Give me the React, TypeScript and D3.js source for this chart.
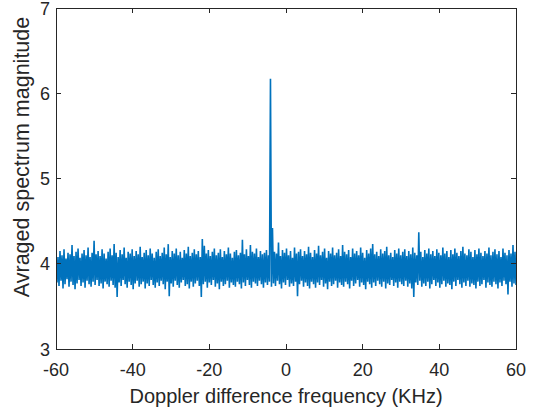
import React from 'react';
import * as d3 from 'd3';

const xTicks = [-60, -40, -20, 0, 20, 40, 60];
const yTicks = [3, 4, 5, 6, 7];

// Upper envelope of the averaged spectrum (one value per ~0.52 kHz)
const upperEnvelope = [
  4.12, 4.08, 4.15, 4.10, 4.17, 4.06, 4.13, 4.11, 4.22, 4.09,
  4.14, 4.18, 4.07, 4.12, 4.16, 4.10, 4.19, 4.08, 4.13, 4.27,
  4.11, 4.15, 4.09, 4.17, 4.12, 4.06, 4.14, 4.18, 4.10, 4.23,
  4.13, 4.08, 4.16, 4.11, 4.19, 4.07, 4.14, 4.12, 4.17, 4.09,
  4.15, 4.11, 4.20, 4.08, 4.13, 4.16, 4.10, 4.18, 4.12, 4.07,
  4.14, 4.17, 4.09, 4.13, 4.19, 4.11, 4.23, 4.08, 4.15, 4.12,
  4.18, 4.10, 4.14, 4.07, 4.16, 4.12, 4.20, 4.09, 4.13, 4.17,
  4.11, 4.15, 4.08, 4.29, 4.21, 4.12, 4.16, 4.09, 4.14, 4.18,
  4.10, 4.13, 4.17, 4.08, 4.15, 4.11, 4.19, 4.12, 4.07, 4.14,
  4.16, 4.10, 4.13, 4.28, 4.11, 4.17, 4.09, 4.22, 4.14, 4.12,
  4.18, 4.08, 4.15, 4.11, 4.13, 4.16, 4.10, 6.17, 4.42, 4.14,
  4.12, 4.25, 4.09, 4.16, 4.13, 4.18, 4.10, 4.15, 4.07, 4.19,
  4.12, 4.14, 4.17, 4.09, 4.15, 4.11, 4.20, 4.13, 4.08, 4.16,
  4.12, 4.21, 4.10, 4.14, 4.18, 4.07, 4.15, 4.12, 4.19, 4.10,
  4.13, 4.17, 4.09, 4.22, 4.14, 4.11, 4.16, 4.08, 4.18, 4.12,
  4.15, 4.10, 4.19, 4.13, 4.07, 4.16, 4.12, 4.18, 4.23, 4.11,
  4.14, 4.09, 4.17, 4.12, 4.15, 4.20, 4.10, 4.13, 4.08, 4.16,
  4.12, 4.18, 4.10, 4.14, 4.17, 4.09, 4.15, 4.11, 4.19, 4.13,
  4.10, 4.37, 4.14, 4.08, 4.16, 4.12, 4.18, 4.11, 4.15, 4.09,
  4.17, 4.13, 4.10, 4.19, 4.12, 4.15, 4.08, 4.16, 4.11, 4.18,
  4.13, 4.09, 4.15, 4.20, 4.12, 4.10, 4.17, 4.14, 4.08, 4.16,
  4.11, 4.18, 4.13, 4.09, 4.15, 4.12, 4.19, 4.10, 4.14, 4.17,
  4.11, 4.15, 4.08, 4.18, 4.13, 4.10, 4.16, 4.12, 4.22, 4.14,
];

// Lower envelope of the averaged spectrum
const lowerEnvelope = [
  3.78, 3.74, 3.80, 3.71, 3.76, 3.82, 3.73, 3.79, 3.75, 3.70,
  3.77, 3.81, 3.74, 3.78, 3.72, 3.80, 3.76, 3.73, 3.79, 3.75,
  3.81, 3.74, 3.77, 3.71, 3.79, 3.76, 3.73, 3.80, 3.75, 3.72,
  3.61, 3.78, 3.74, 3.81, 3.76, 3.72, 3.79, 3.75, 3.70, 3.77,
  3.80, 3.73, 3.76, 3.79, 3.71, 3.77, 3.74, 3.81, 3.75, 3.72,
  3.78, 3.74, 3.80, 3.76, 3.70, 3.79, 3.62, 3.77, 3.73, 3.80,
  3.75, 3.72, 3.78, 3.81, 3.74, 3.76, 3.71, 3.79, 3.73, 3.77,
  3.80, 3.74, 3.61, 3.76, 3.79, 3.72, 3.78, 3.75, 3.81, 3.73,
  3.77, 3.70, 3.79, 3.74, 3.76, 3.80, 3.72, 3.78, 3.75, 3.73,
  3.79, 3.76, 3.71, 3.78, 3.74, 3.81, 3.75, 3.72, 3.79, 3.77,
  3.74, 3.80, 3.76, 3.72, 3.78, 3.75, 3.79, 3.73, 3.77, 3.74,
  3.80, 3.76, 3.71, 3.78, 3.75, 3.81, 3.73, 3.77, 3.74, 3.79,
  3.62, 3.76, 3.80, 3.73, 3.78, 3.74, 3.71, 3.79, 3.76, 3.72,
  3.78, 3.75, 3.81, 3.73, 3.77, 3.70, 3.79, 3.74, 3.76, 3.80,
  3.72, 3.78, 3.75, 3.73, 3.79, 3.76, 3.71, 3.80, 3.74, 3.77,
  3.81, 3.73, 3.78, 3.75, 3.70, 3.79, 3.76, 3.72, 3.78, 3.74,
  3.80, 3.76, 3.73, 3.79, 3.71, 3.77, 3.75, 3.81, 3.74, 3.78,
  3.72, 3.79, 3.76, 3.74, 3.80, 3.73, 3.77, 3.71, 3.61, 3.78,
  3.75, 3.80, 3.73, 3.77, 3.74, 3.79, 3.71, 3.76, 3.81, 3.74,
  3.78, 3.72, 3.76, 3.80, 3.73, 3.77, 3.75, 3.70, 3.79, 3.74,
  3.81, 3.76, 3.72, 3.78, 3.74, 3.80, 3.73, 3.77, 3.75, 3.71,
  3.79, 3.74, 3.76, 3.81, 3.72, 3.78, 3.75, 3.73, 3.79, 3.76,
  3.71, 3.78, 3.74, 3.80, 3.76, 3.64, 3.79, 3.73, 3.77, 3.75,
];

const FONT = "'Liberation Sans', Arial, Helvetica, sans-serif";
const AXIS_COLOR = '#262626';
const LINE_COLOR = '#0072BD';

export default function App() {
  const W = 541;
  const H = 416;
  const left = 56, right = 516, top = 8, bottom = 349;
  const x = d3.scaleLinear().domain([-60, 60]).range([left, right]);
  const y = d3.scaleLinear().domain([3, 7]).range([bottom, top]);

  const values: number[] = [];
  upperEnvelope.forEach((v, i) => {
    values.push(v);
    values.push(lowerEnvelope[i]);
  });
  const n = values.length;
  const freqs = values.map((_, k) => -60 + (k * 120) / (n - 1));
  const path = d3
    .line<number>()
    .x((_, k) => x(freqs[k]))
    .y((v) => y(v))(values) as string;

  const tickLen = 5;

  return (
    <svg
      width={W}
      height={H}
      style={{ position: 'absolute', left: 0, top: 0, display: 'block', background: '#fff' }}
    >
      <rect x={0} y={0} width={W} height={H} fill="#fff" />
      <defs>
        <clipPath id="plotClip">
          <rect x={left} y={top} width={right - left} height={bottom - top} />
        </clipPath>
      </defs>
      <path
        d={path}
        fill="none"
        stroke={LINE_COLOR}
        strokeWidth={1.6}
        strokeLinejoin="miter"
        strokeMiterlimit={1.5}
        clipPath="url(#plotClip)"
      />

      {/* box */}
      <rect
        x={left}
        y={top}
        width={right - left}
        height={bottom - top}
        fill="none"
        stroke={AXIS_COLOR}
        strokeWidth={1}
        shapeRendering="crispEdges"
      />

      {/* x ticks */}
      {xTicks.map((t) => (
        <g key={'x' + t}>
          <line x1={x(t)} x2={x(t)} y1={bottom} y2={bottom - tickLen} stroke={AXIS_COLOR} shapeRendering="crispEdges" />
          <line x1={x(t)} x2={x(t)} y1={top} y2={top + tickLen} stroke={AXIS_COLOR} shapeRendering="crispEdges" />
          <text
            x={x(t)}
            y={376}
            textAnchor="middle"
            fontFamily={FONT}
            fontSize={18}
            fill={AXIS_COLOR}
          >
            {t}
          </text>
        </g>
      ))}

      {/* y ticks */}
      {yTicks.map((t) => (
        <g key={'y' + t}>
          <line x1={left} x2={left + tickLen} y1={y(t)} y2={y(t)} stroke={AXIS_COLOR} shapeRendering="crispEdges" />
          <line x1={right} x2={right - tickLen} y1={y(t)} y2={y(t)} stroke={AXIS_COLOR} shapeRendering="crispEdges" />
          <text
            x={50}
            y={y(t) + 6.5}
            textAnchor="end"
            fontFamily={FONT}
            fontSize={18}
            fill={AXIS_COLOR}
          >
            {t}
          </text>
        </g>
      ))}

      <text
        x={(left + right) / 2}
        y={403}
        textAnchor="middle"
        fontFamily={FONT}
        fontSize={20}
        fill={AXIS_COLOR}
      >
        Doppler difference frequency (KHz)
      </text>
      <text
        transform={`translate(29, 157) rotate(-90)`}
        textAnchor="middle"
        fontFamily={FONT}
        fontSize={21.5}
        fill={AXIS_COLOR}
      >
        Avraged spectrum magnitude
      </text>
    </svg>
  );
}
